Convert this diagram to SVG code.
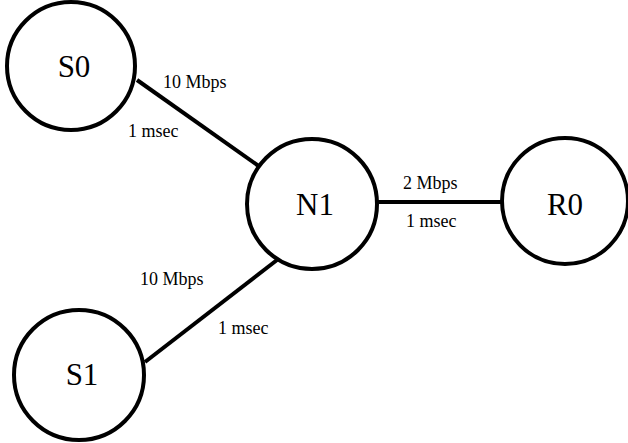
<svg xmlns="http://www.w3.org/2000/svg" width="628" height="443" viewBox="0 0 628 443">
<style>
.node{fill:#fff;stroke:#000;stroke-width:4}
.edge{stroke:#000;stroke-width:4;fill:none}
text{font-family:'Liberation Serif','Times New Roman',Times,serif;fill:#000}
.nl{font-size:31px;text-anchor:middle}
.el{font-size:18px}
</style>
<rect width="628" height="443" fill="#fff"/>
<g id="edges">
<line class="edge" x1="137" y1="80" x2="260" y2="167"/>
<line class="edge" x1="378" y1="202" x2="503" y2="202"/>
<line class="edge" x1="145" y1="362" x2="277" y2="260"/>
<text class="el" x="163" y="88">10 Mbps</text>
<text class="el" x="128" y="137">1 msec</text>
<text class="el" x="403" y="189">2 Mbps</text>
<text class="el" x="406" y="227">1 msec</text>
<text class="el" x="140" y="285">10 Mbps</text>
<text class="el" x="218" y="334">1 msec</text>
</g>
<g id="S0"><circle class="node" cx="71" cy="66" r="64"/><text class="nl" x="74" y="77">S0</text></g>
<g id="N1"><circle class="node" cx="312" cy="204" r="65"/><text class="nl" x="315" y="215">N1</text></g>
<g id="R0"><circle class="node" cx="565" cy="201" r="63"/><text class="nl" x="565" y="215">R0</text></g>
<g id="S1"><circle class="node" cx="79" cy="375" r="65"/><text class="nl" x="82" y="385">S1</text></g>
</svg>
